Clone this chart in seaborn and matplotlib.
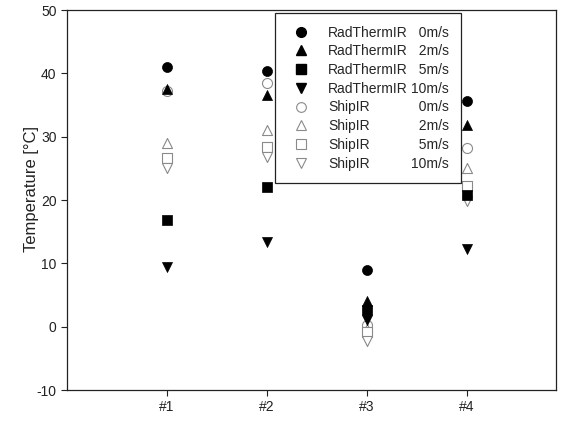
import matplotlib
matplotlib.use("Agg")
import matplotlib.pyplot as plt
from matplotlib.lines import Line2D
import seaborn as sns
import pandas as pd

sites = ["#1", "#2", "#3", "#4"]
site_pos = [1, 2, 3, 4]

rad_0 = [41.0, 40.4, 8.9, 35.6]
rad_2 = [37.6, 36.6, 4.0, 31.8]
rad_5 = [16.8, 22.1, 2.6, 20.8]
rad_10 = [9.4, 13.3, 1.0, 12.2]
ship_0 = [37.2, 38.5, 0.3, 28.2]
ship_2 = [29.0, 31.1, -0.3, 25.1]
ship_5 = [26.6, 28.3, -0.8, 22.2]
ship_10 = [25.0, 26.8, -2.3, 19.8]

models = ["RadThermIR"] * 4 + ["ShipIR"] * 4
speeds = ["0m/s", "2m/s", "5m/s", "10m/s"] * 2
series = [rad_0, rad_2, rad_5, rad_10, ship_0, ship_2, ship_5, ship_10]
markers = ["o", "^", "s", "v"] * 2

sns.set_style("ticks")
plt.rcParams["font.family"] = ["Liberation Sans", "DejaVu Sans"]
plt.rcParams["axes.unicode_minus"] = False

fig = plt.figure(figsize=(5.62, 4.22), dpi=100)
ax = fig.add_axes([67 / 562, 32 / 422, 489 / 562, 380 / 422])

ms = 52
for i, (m, sp, vals, mk) in enumerate(zip(models, speeds, series, markers)):
    df = pd.DataFrame({"x": site_pos, "y": vals})
    if m == "RadThermIR":
        sns.scatterplot(data=df, x="x", y="y", marker=mk, s=ms, color="black",
                        edgecolor="black", linewidth=0.5, ax=ax, zorder=3, legend=False)
    else:
        sns.scatterplot(data=df, x="x", y="y", marker=mk, s=ms, facecolor="white",
                        edgecolor="#8a8a8a", linewidth=0.8, ax=ax, zorder=2, legend=False)

ax.set_xlim(0, 4.89)
ax.set_ylim(-10, 50)
ax.set_xticks(site_pos)
ax.set_xticklabels(sites)
ax.set_yticks(range(-10, 51, 10))
ax.set_xlabel("")
ax.set_ylabel("Temperature [°C]", fontsize=12, color="#222222")
ax.yaxis.set_label_coords(-0.057, 0.53)
ax.tick_params(axis="both", direction="out", length=4, width=0.8, labelsize=10,
               colors="#222222")
for s in ax.spines.values():
    s.set_visible(True)
    s.set_linewidth(0.9)
    s.set_color("#222222")

# legend: names column + right-aligned speed column
handles = []
labels = []
for m, mk in zip(models, markers):
    if m == "RadThermIR":
        h = Line2D([], [], linestyle="none", marker=mk, markersize=7,
                   markerfacecolor="black", markeredgecolor="black")
    else:
        h = Line2D([], [], linestyle="none", marker=mk, markersize=7,
                   markerfacecolor="white", markeredgecolor="#8a8a8a", markeredgewidth=0.8)
    handles.append(h)
    labels.append(m)
for sp in speeds:
    handles.append(Line2D([], [], linestyle="none"))
    labels.append(sp if len(sp) == 5 else "\u2007" + sp)

leg = ax.legend(handles, labels, ncol=2, loc="upper left",
                bbox_to_anchor=(0.426, 0.992), borderaxespad=0,
                fontsize=10, frameon=True, fancybox=False, framealpha=1,
                edgecolor="#222222", labelspacing=0.34, handlelength=1.9,
                handletextpad=1.0, columnspacing=-2.7, borderpad=0.9)
leg.get_frame().set_linewidth(0.9)

fig.savefig("out.png", dpi=100)
